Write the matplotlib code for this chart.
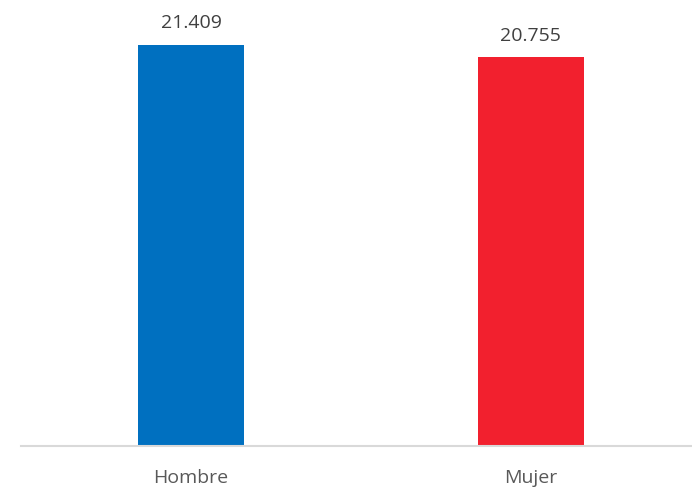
import matplotlib.pyplot as plt

# datos
categorias = ["Hombre", "Mujer"]
valores = [21409, 20755]
etiquetas = ["21.409", "20.755"]
colores = ["#0070C0", "#F2202E"]

plt.rcParams['font.family'] = ['Open Sans', 'DejaVu Sans']

fig = plt.figure(figsize=(6.92, 4.90), dpi=100)
ax = fig.add_axes([21 / 692, 1 - 445.5 / 490, 671 / 692, 445.5 / 490])

x = range(len(categorias))
barras = ax.bar(x, valores, width=0.312, color=colores)

ax.set_xlim(-0.5, 1.474)
ax.set_ylim(0, 21409 * 445.5 / 400.5)

for b, txt in zip(barras, etiquetas):
    ax.annotate(txt, (b.get_x() + b.get_width() / 2, b.get_height()),
                xytext=(0, 9), textcoords='offset points',
                ha='center', va='bottom', fontsize=14, color='#404040')

for s in ['top', 'right', 'left']:
    ax.spines[s].set_visible(False)
ax.spines['bottom'].set_color('#D9D9D9')
ax.spines['bottom'].set_linewidth(1.5)

ax.set_yticks([])
ax.set_xticks(list(x))
ax.set_xticklabels(categorias, fontsize=14, color='#595959')
ax.tick_params(axis='x', length=0, pad=17)

fig.savefig('out.png', dpi=100)
